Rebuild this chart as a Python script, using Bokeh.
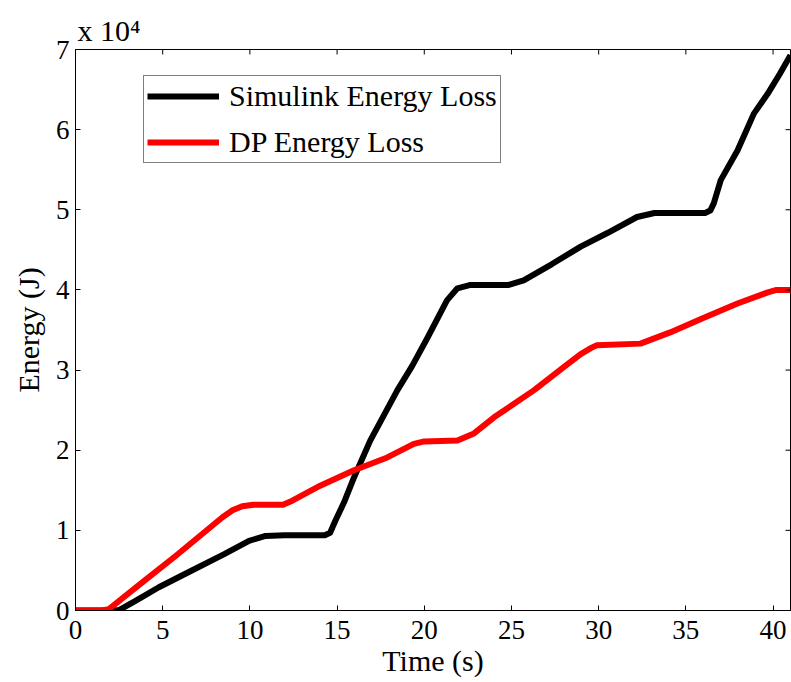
from bokeh.plotting import figure
from bokeh.models import Range1d, FixedTicker, Legend, LegendItem
from bokeh.embed import file_html
from bokeh.resources import INLINE
import math

# Simulink energy loss (time in s, energy in J)
sim_t = [0, 2.0, 2.5, 3.44, 4.78, 6.5, 8.5, 9.95, 10.9, 12.0, 14.3, 14.6, 14.9, 15.4,
         15.97, 16.9, 18.46, 19.3, 20.2, 21.3, 21.9, 22.6, 24.8, 25.7, 27.3, 28.97,
         30.5, 32.2, 33.2, 36.1, 36.4, 36.6, 37.0, 37.96, 38.9, 39.7, 40.4, 41.0]
sim_E = [0, 0, 50, 1200, 2900, 4800, 7000, 8700, 9300, 9400, 9400, 9700, 11200, 13500,
         16600, 21200, 27500, 30500, 34100, 38700, 40200, 40600, 40600, 41200, 43200, 45400,
         47100, 49100, 49600, 49600, 49900, 50800, 53700, 57400, 62000, 64500, 67000, 69300]

# DP energy loss
dp_t = [0, 1.5, 1.9, 3.83, 5.74, 8.41, 9.0, 9.56, 10.2, 11.9, 12.43, 14.06, 15.97, 17.88,
        19.4, 20.0, 21.9, 22.85, 24.0, 26.3, 28.2, 28.97, 29.6, 29.9, 32.4, 34.1, 35.9,
        37.96, 39.7, 40.2, 41.0]
dp_E = [0, 0, 150, 3500, 6800, 11600, 12500, 13000, 13200, 13200, 13700, 15600, 17500, 19100,
        20800, 21100, 21200, 22100, 24100, 27500, 30700, 32000, 32800, 33100, 33300, 34700, 36400,
        38300, 39700, 40000, 40000]

x_ticks = [0, 5, 10, 15, 20, 25, 30, 35, 40]
y_ticks = [0, 10000, 20000, 30000, 40000, 50000, 60000, 70000]
y_tick_labels = ["0", "1", "2", "3", "4", "5", "6", "7"]
series_names = ["Simulink Energy Loss", "DP Energy Loss"]
exponent_text = "x 10\u2074"
x_max = 41
y_max = 70000

FONT = "Liberation Serif"

p = figure(width=791, height=682, output_backend="svg", toolbar_location=None,
           x_range=Range1d(0, x_max), y_range=Range1d(0, y_max),
           min_border_left=75, min_border_right=1, min_border_top=49, min_border_bottom=72)
p.background_fill_color = "white"
p.border_fill_color = "white"
p.grid.visible = False
p.outline_line_color = "black"
p.outline_line_width = 1

# exponent shown as a left-aligned title just above the frame
p.title.text = exponent_text
p.title.align = "left"
p.title.offset = 2
p.title.standoff = 6
p.title.text_font = FONT
p.title.text_font_size = "30px"
p.title.text_font_style = "normal"
p.title.text_color = "black"

r1 = p.line(sim_t, sim_E, line_color="black", line_width=6, line_join="round")
r2 = p.line(dp_t, dp_E, line_color="red", line_width=6, line_join="round")

for ax in [p.xaxis[0], p.yaxis[0]]:
    ax.major_tick_in = 5
    ax.major_tick_out = 0
    ax.minor_tick_line_color = None
    ax.axis_line_color = "black"
    ax.major_tick_line_color = "black"
    ax.major_label_text_font = FONT
    ax.major_label_text_font_size = "27px"
    ax.major_label_text_color = "black"
    ax.axis_label_text_font = FONT
    ax.axis_label_text_font_size = "30px"
    ax.axis_label_text_font_style = "normal"
    ax.axis_label_text_color = "black"

p.xaxis.ticker = FixedTicker(ticks=x_ticks)
p.yaxis.ticker = FixedTicker(ticks=y_ticks)
p.yaxis.major_label_overrides = {v: l for v, l in zip(y_ticks, y_tick_labels)}
p.xaxis.axis_label = "Time (s)"
p.yaxis.axis_label = "Energy (J)"
p.xaxis.major_label_standoff = 10
p.xaxis.axis_label_standoff = 2
p.yaxis.major_label_standoff = 6
p.yaxis.axis_label_standoff = 8

# mirrored tick marks on the top and right edges (half of each dash is clipped by the frame)
p.scatter(x_ticks, [y_max] * len(x_ticks), marker="dash", angle=math.pi / 2, size=10,
          line_color="black", line_width=1)
p.scatter([x_max] * len(y_ticks), y_ticks, marker="dash", size=10,
          line_color="black", line_width=1)

legend = Legend(items=[LegendItem(label=series_names[0], renderers=[r1]),
                       LegendItem(label=series_names[1], renderers=[r2])],
                location=(68, 447))
legend.label_text_font = FONT
legend.label_text_font_size = "30px"
legend.label_text_color = "black"
legend.glyph_width = 72
legend.glyph_height = 30
legend.label_height = 30
legend.label_standoff = 10
legend.spacing = 12
legend.padding = 3
legend.margin = 0
legend.border_line_color = "black"
legend.border_line_width = 1
legend.background_fill_alpha = 1
p.add_layout(legend, "center")

open("out.html", "w").write(file_html(p, INLINE))
